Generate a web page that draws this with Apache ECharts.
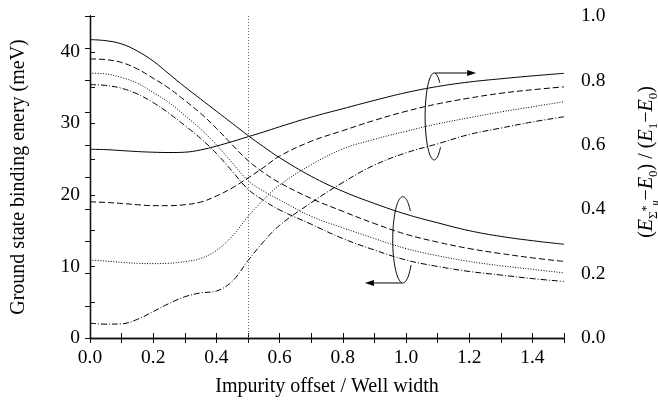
<!DOCTYPE html>
<html>
<head>
<meta charset="utf-8">
<script src="https://cdn.jsdelivr.net/npm/echarts@6.0.0/dist/echarts.min.js"></script>
<style>
  html, body { margin: 0; padding: 0; background: #fff; }
  #chart { width: 658px; height: 401px; }
</style>
</head>
<body>
<div id="chart"></div>
<script>
// Impurity offset (in units of the well width)
const offsets = [0, 0.05, 0.1, 0.15, 0.2, 0.25, 0.3, 0.35, 0.4, 0.45, 0.5, 0.55, 0.6, 0.7, 0.8, 0.9, 1.0, 1.1, 1.2, 1.3, 1.4, 1.5];

// Ground state binding energy (meV), left axis
const bindingSolid   = [41.7, 41.55, 41.1, 40.1, 38.7, 36.9, 35.1, 33.4, 31.7, 30.0, 28.3, 26.7, 25.2, 22.6, 20.5, 18.8, 17.3, 16.1, 15.0, 14.2, 13.6, 13.1];
const bindingDashed  = [39.0, 38.9, 38.5, 37.6, 36.3, 34.9, 33.2, 31.4, 29.3, 27.0, 24.8, 23.1, 21.7, 19.5, 17.7, 16.0, 14.5, 13.4, 12.5, 11.8, 11.2, 10.7];
const bindingDotted  = [37.0, 36.9, 36.4, 35.6, 34.3, 32.9, 31.1, 29.2, 27.0, 24.5, 22.0, 20.5, 19.3, 17.0, 15.4, 13.9, 12.5, 11.5, 10.7, 10.1, 9.6, 9.1];
const bindingDashDot = [35.4, 35.3, 34.9, 34.1, 32.9, 31.4, 29.7, 27.9, 25.8, 23.3, 20.8, 19.2, 17.9, 15.9, 13.9, 12.3, 10.9, 10.0, 9.3, 8.8, 8.3, 7.9];

// Normalised excited level (E_Σ*u − E0)/(E1 − E0), right axis
const ratioSolid   = [0.586, 0.585, 0.582, 0.579, 0.577, 0.576, 0.577, 0.584, 0.596, 0.610, 0.625, 0.640, 0.656, 0.686, 0.712, 0.738, 0.762, 0.781, 0.795, 0.805, 0.814, 0.822];
const ratioDashed  = [0.423, 0.421, 0.418, 0.414, 0.411, 0.411, 0.414, 0.422, 0.441, 0.466, 0.497, 0.530, 0.565, 0.611, 0.644, 0.676, 0.704, 0.727, 0.745, 0.760, 0.771, 0.780];
const ratioDotted  = [0.242, 0.239, 0.235, 0.232, 0.231, 0.232, 0.237, 0.247, 0.272, 0.316, 0.377, 0.430, 0.475, 0.538, 0.587, 0.617, 0.642, 0.665, 0.684, 0.702, 0.718, 0.734];
const ratioDashDot = [0.046, 0.043, 0.044, 0.058, 0.082, 0.107, 0.128, 0.140, 0.146, 0.176, 0.240, 0.300, 0.350, 0.420, 0.483, 0.537, 0.575, 0.603, 0.632, 0.652, 0.671, 0.687];

// Axis ranges and ticks
const xRange = [0, 1.5], xStep = 0.2;
const energyRange = [0, 45], energyStep = 10;
const ratioRange = [0, 1], ratioStep = 0.2;

// Vertical reference at the well edge
const wellEdge = 0.5;

// Circular arrows pointing each bundle to its axis
const upperRing = { x: 1.089, top: 0.823, bottom: 0.553, halfW: 0.0285, arrowTo: 1.222, gapFrom: -50, gapTo: 45 };
const lowerRing = { x: 0.99, top: 19.75, bottom: 7.69, halfW: 0.032, arrowTo: 0.87, gapFrom: -41, gapTo: 36 };

const FONT = '"Liberation Serif", "DejaVu Serif", serif';
const INK = '#111';

const dashTypes = { solid: 'solid', dashed: [6, 3], dotted: [1, 1.6], dashdot: [6, 2, 1, 2] };

function makeSeries(values, dash, yAxisIndex, extra) {
  return Object.assign({
    type: 'line',
    yAxisIndex: yAxisIndex,
    data: offsets.map((x, i) => [x, values[i]]),
    showSymbol: false,
    symbol: 'none',
    smooth: 0.4,
    silent: true,
    lineStyle: { color: '#000', width: 1, type: dash }
  }, extra || {});
}

const tickStyle = { inside: true, length: 5, lineStyle: { color: INK, width: 1 } };
const minorStyle = { show: true, splitNumber: 2, length: 5, lineStyle: { color: INK, width: 1 } };
const lineStyleAxis = { show: true, lineStyle: { color: INK, width: 1.3 } };
const labelFont = { fontFamily: FONT, fontSize: 19.5, color: '#000' };

const chart = echarts.init(document.getElementById('chart'), null, { renderer: 'canvas' });

const option = {
  animation: false,
  backgroundColor: '#fff',
  grid: { left: 90, right: 94, top: 16, bottom: 63, containLabel: false, outerBoundsMode: 'none' },
  xAxis: [
    {
      type: 'value', min: xRange[0], max: xRange[1], interval: xStep,
      position: 'bottom',
      axisLine: lineStyleAxis, axisTick: tickStyle, minorTick: minorStyle,
      splitLine: { show: false },
      axisLabel: Object.assign({ margin: 10, showMaxLabel: false, formatter: v => v.toFixed(1) }, labelFont),
      name: 'Impurity offset / Well width', nameLocation: 'middle', nameGap: 39, nameMoveOverlap: false,
      nameTextStyle: { fontFamily: FONT, fontSize: 20, color: '#000' }
    },
    {
      type: 'value', min: xRange[0], max: xRange[1], interval: xStep,
      position: 'top',
      axisLine: lineStyleAxis, axisTick: tickStyle, minorTick: minorStyle,
      splitLine: { show: false }, axisLabel: { show: false }
    }
  ],
  yAxis: [
    {
      type: 'value', min: energyRange[0], max: energyRange[1], interval: energyStep,
      position: 'left',
      axisLine: lineStyleAxis, axisTick: tickStyle, minorTick: minorStyle,
      splitLine: { show: false },
      axisLabel: Object.assign({ margin: 10, showMaxLabel: false }, labelFont),
      name: 'Ground state binding enery (meV)', nameLocation: 'middle', nameGap: 61, nameMoveOverlap: false,
      nameTextStyle: { fontFamily: FONT, fontSize: 20, color: '#000' }
    },
    {
      type: 'value', min: ratioRange[0], max: ratioRange[1], interval: ratioStep,
      position: 'right',
      axisLine: lineStyleAxis, axisTick: tickStyle, minorTick: minorStyle,
      splitLine: { show: false },
      axisLabel: Object.assign({ margin: 17, formatter: v => v.toFixed(1) }, labelFont),
      name: '{p|(}{i|E}{s|Σ}{ss|*}{si|u}{p|−}{i|E}{s|0}{p|) / (}{i|E}{s|1}{p|−}{i|E}{s|0}{p|)}',
      nameLocation: 'middle', nameGap: 70, nameMoveOverlap: false,
      nameTextStyle: {
        fontFamily: FONT, fontSize: 20, color: '#000',
        padding: [0, 0, 0, 30],
        rich: {
          p:  { fontFamily: FONT, fontSize: 20, lineHeight: 26, color: '#000' },
          i:  { fontFamily: FONT, fontSize: 20, lineHeight: 26, fontStyle: 'italic', color: '#000' },
          s:  { fontFamily: FONT, fontSize: 13, lineHeight: 26, verticalAlign: 'bottom', color: '#000' },
          ss: { fontFamily: FONT, fontSize: 12, lineHeight: 26, verticalAlign: 'middle', color: '#000' },
          si: { fontFamily: FONT, fontSize: 10, lineHeight: 26, fontStyle: 'italic', verticalAlign: 'bottom', color: '#000' }
        }
      }
    }
  ],
  series: [
    makeSeries(bindingSolid, dashTypes.solid, 0, {
      markLine: {
        silent: true, symbol: 'none', label: { show: false },
        lineStyle: { type: [1, 2], color: '#666', width: 1 },
        data: [{ xAxis: wellEdge }]
      }
    }),
    makeSeries(bindingDashed, dashTypes.dashed, 0),
    makeSeries(bindingDotted, dashTypes.dotted, 0),
    makeSeries(bindingDashDot, dashTypes.dashdot, 0),
    makeSeries(ratioSolid, dashTypes.solid, 1),
    makeSeries(ratioDashed, dashTypes.dashed, 1),
    makeSeries(ratioDotted, dashTypes.dotted, 1),
    makeSeries(ratioDashDot, dashTypes.dashdot, 1)
  ]
};

chart.setOption(option);

// Ring-with-arrow markers, placed through the axes' own scales
function ringGraphics(ring, yAxisIndex, arrowFromTop) {
  const px = (x, y) => chart.convertToPixel({ xAxisIndex: 0, yAxisIndex: yAxisIndex }, [x, y]);
  const topPt = px(ring.x, ring.top);
  const botPt = px(ring.x, ring.bottom);
  const edgePt = px(ring.x + ring.halfW, ring.top);
  const cx = topPt[0];
  const cy = (topPt[1] + botPt[1]) / 2;
  const ry = (botPt[1] - topPt[1]) / 2;
  const rx = edgePt[0] - cx;
  const pts = [];
  for (let a = ring.gapTo; a <= 360 + ring.gapFrom; a += 3) {
    const t = a * Math.PI / 180;
    pts.push([cx + rx * Math.cos(t), cy + ry * Math.sin(t)]);
  }
  const startY = arrowFromTop ? topPt[1] : botPt[1];
  const tipX = px(ring.arrowTo, ring.top)[0];
  const dir = tipX > cx ? 1 : -1;
  const headLen = 9, headHalf = 3;
  return [
    { type: 'polyline', silent: true, shape: { points: pts }, style: { stroke: '#000', lineWidth: 1, fill: null } },
    { type: 'line', silent: true, shape: { x1: cx + dir * 1, y1: startY, x2: tipX - dir * headLen, y2: startY }, style: { stroke: '#000', lineWidth: 1 } },
    { type: 'polygon', silent: true, shape: { points: [[tipX, startY], [tipX - dir * headLen, startY - headHalf], [tipX - dir * headLen, startY + headHalf]] }, style: { fill: '#000' } }
  ];
}

chart.setOption({
  graphic: [].concat(ringGraphics(upperRing, 1, true), ringGraphics(lowerRing, 0, false))
});
</script>
</body>
</html>
